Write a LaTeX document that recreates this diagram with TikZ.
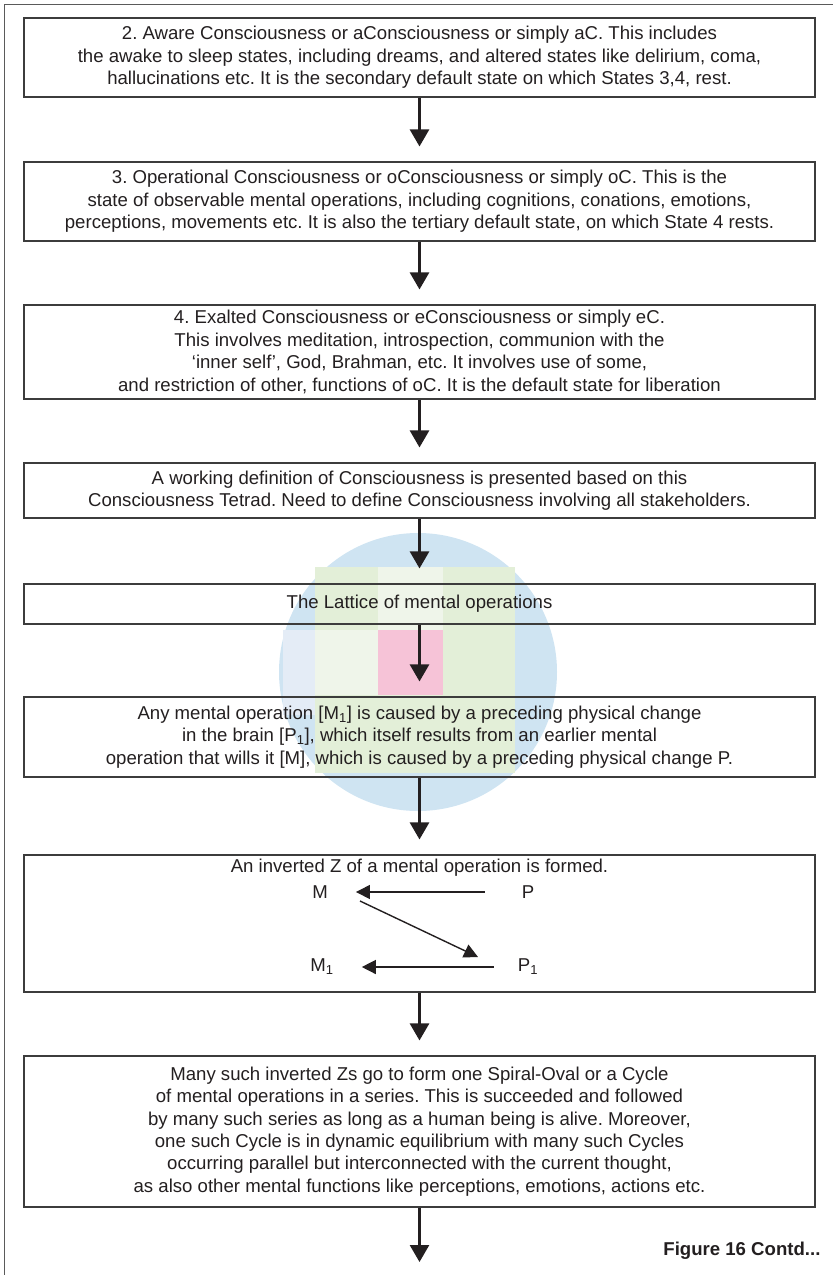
\documentclass[tikz,border=0pt]{standalone}
\usepackage{fontspec}
\setmainfont{Liberation Sans}
\usepackage{tikz}
\usetikzlibrary{arrows.meta, positioning}

\definecolor{ink}{HTML}{231F20}
\definecolor{boxline}{HTML}{3C3C3C}
\definecolor{frameline}{HTML}{5A5A5A}
\definecolor{blobblue}{HTML}{CFE4F2}
\definecolor{blobpaleblue}{HTML}{E4ECF6}
\definecolor{blobgreen}{HTML}{E3EFD8}
\definecolor{blobpale}{HTML}{EFF5EA}
\definecolor{blobpink}{HTML}{F6C3D7}

\frenchspacing

\begin{document}
\begin{tikzpicture}[
		x=1pt, y=-1pt,
		box/.style={draw=boxline, line width=1.1pt, minimum width=791pt, inner sep=0pt, align=center, text=ink, font=\fontsize{18.6}{22.4}\selectfont},
		boxtext/.style={inner sep=0pt, align=center, text=ink, font=\fontsize{18.6}{22.4}\selectfont},
		flow/.style={-{Triangle[length=17pt, width=19pt]}, line width=2.6pt, draw=ink, shorten >=15pt},
		zarrow/.style={-{Triangle[length=14pt, width=14pt]}, line width=1.4pt, draw=ink},
		zlabel/.style={inner sep=2pt, text=ink, font=\fontsize{18.6}{22}\selectfont}
	]
	\useasboundingbox (0, 0) rectangle (833, 1275);
	
	\fill[blobblue] (418, 672) circle (139);
	\fill[blobpaleblue] (283, 630) rectangle (315, 715);
	\fill[blobgreen] (315, 567) rectangle (515, 773);
	\fill[blobpale] (315, 630) rectangle (378, 695);
	\fill[blobpale] (378, 567) rectangle (443, 630);
	\fill[blobpink] (378, 630) rectangle (443, 695);
	
	\draw[frameline, line width=1pt] (4, 1275) -- (4, 4) -- (833, 4);
	
	\node[box, minimum height=79pt] (aware) at (419.5, 57.5)
		{2. Aware Consciousness or aConsciousness or simply aC. This includes\\
		the awake to sleep states, including dreams, and altered states like delirium, coma,\\
		hallucinations etc. It is the secondary default state on which States 3,4, rest.};
	\node[box, minimum height=79pt] (oper) at (419.5, 201.5)
		{3. Operational Consciousness or oConsciousness or simply oC. This is the\\
		state of observable mental operations, including cognitions, conations, emotions,\\
		perceptions, movements etc. It is also the tertiary default state, on which State 4 rests.};
	\node[box, minimum height=94pt] (exalt) at (419.5, 352)
		{4. Exalted Consciousness or eConsciousness or simply eC.\\
		This involves meditation, introspection, communion with the\\
		‘inner self’, God, Brahman, etc. It involves use of some,\\
		and restriction of other, functions of oC. It is the default state for liberation};
	\node[box, minimum height=55pt] (define) at (419.5, 490.5)
		{A working definition of Consciousness is presented based on this\\
		Consciousness Tetrad. Need to define Consciousness involving all stakeholders.};
	\node[box, minimum height=40pt] (lattice) at (419.5, 604)
		{The Lattice of mental operations};
	\node[box, minimum height=80pt] (cause) at (419.5, 737)
		{Any mental operation [M\textsubscript{1}] is caused by a preceding physical change\\
		in the brain [P\textsubscript{1}], which itself results from an earlier mental\\
		operation that wills it [M], which is caused by a preceding physical change P.};
	\node[box, minimum height=137pt] (invz) at (419.5, 923.5) {};
	\node[boxtext] (invztitle) at (419.5, 868) {An inverted Z of a mental operation is formed.};
	\node[box, minimum height=151pt] (cycle) at (419.5, 1131.5)
		{Many such inverted Zs go to form one Spiral-Oval or a Cycle\\
		of mental operations in a series. This is succeeded and followed\\
		by many such series as long as a human being is alive. Moreover,\\
		one such Cycle is in dynamic equilibrium with many such Cycles\\
		occurring parallel but interconnected with the current thought,\\
		as also other mental functions like perceptions, emotions, actions etc.};
	
	\node[zlabel] (M) at (320, 892) {M};
	\node[zlabel] (P) at (528, 892) {P};
	\node[zlabel] (M1) at (322, 967) {M\textsubscript{1}};
	\node[zlabel] (P1) at (528, 967) {P\textsubscript{1}};
	
	\draw[zarrow, shorten <=35pt, shorten >=26pt] (P) -- (M);
	\draw[zarrow] ([xshift=40pt, yshift=-9pt]M.center) -- ([xshift=-50pt, yshift=10pt]P1.center);
	\draw[zarrow, shorten <=22pt, shorten >=26pt] (P1) -- (M1);
	
	\draw[flow] (aware) -- (oper);
	\draw[flow] (oper) -- (exalt);
	\draw[flow] (exalt) -- (define);
	\draw[flow] (define) -- (lattice);
	\draw[flow] (lattice) -- (cause);
	\draw[flow] (cause) -- (invz);
	\draw[flow] (invz) -- (cycle);
	
	\coordinate (contend) at (419.5, 1262);
	\draw[flow, shorten >=0pt] (cycle) -- (contend);
	
	\node[anchor=east, text=ink, font=\fontsize{18.6}{22}\selectfont\bfseries] (contd) at (824, 1251) {Figure 16 Contd...};
\end{tikzpicture}
\end{document}
